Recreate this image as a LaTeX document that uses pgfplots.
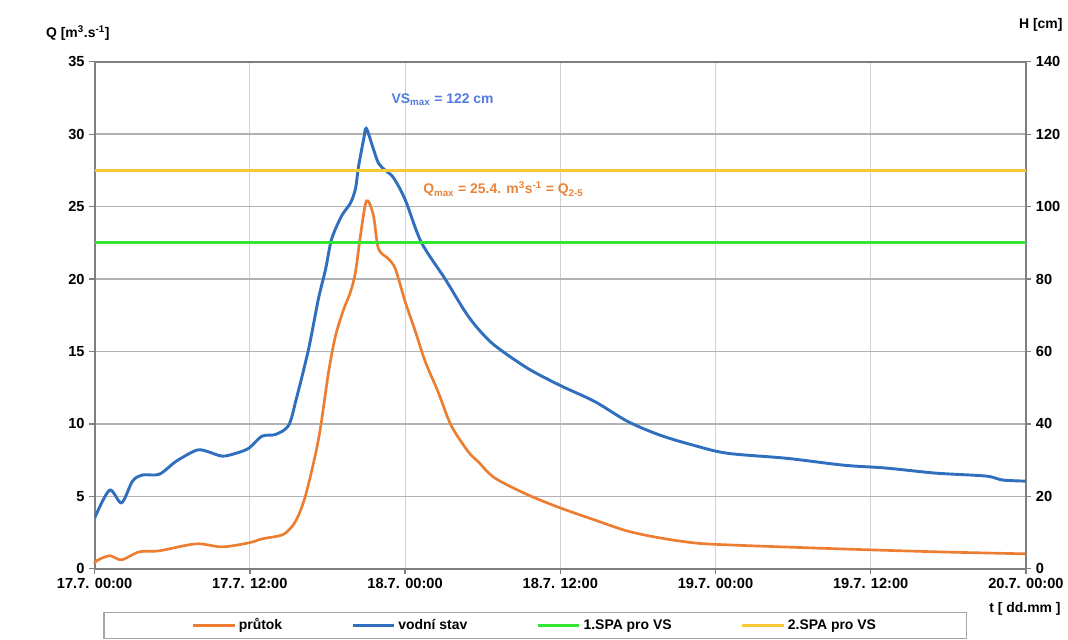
\documentclass[border=0pt]{standalone}
\usepackage{pgfplots}
\pgfplotsset{compat=1.18}
\usepackage{fontspec}
\setmainfont{Liberation Sans}

\definecolor{qorange}{HTML}{ED7D31}
\definecolor{hblue}{HTML}{2F6FBE}
\definecolor{spagreen}{HTML}{33E633}
\definecolor{spayellow}{HTML}{F7C934}
\definecolor{txtblue}{HTML}{4F7BE0}
\definecolor{txtorange}{HTML}{E8833A}
\definecolor{axgray}{HTML}{7F7F7F}

% prutok Q [m3/s], t in hours from 17.7. 00:00
\pgfplotstableread{
t Q
0.00 0.35
0.15 0.55
1.15 0.90
2.08 0.62
3.46 1.17
5.00 1.24
7.85 1.72
9.85 1.51
11.93 1.79
12.93 2.06
14.24 2.27
14.78 2.48
15.55 3.30
16.32 5.10
17.32 9.00
18.09 13.6
18.63 16.1
19.25 17.9
19.78 19.1
20.17 20.5
20.55 23.0
21.02 25.4
21.55 24.4
21.94 22.1
22.71 21.4
23.25 20.7
24.02 18.4
24.79 16.4
25.56 14.3
26.56 12.2
27.56 9.9
28.87 8.1
29.64 7.4
30.95 6.26
33.50 5.10
36.00 4.20
38.65 3.37
41.20 2.60
43.70 2.13
46.30 1.79
48.90 1.65
57.35 1.38
65.05 1.17
72.00 1.03
}\prutok

% vodni stav H [cm]
\pgfplotstableread{
t H
0.00 14.0
1.15 21.7
2.08 18.2
2.93 24.2
3.70 25.9
5.00 26.1
6.31 29.7
7.85 32.7
8.62 32.5
9.85 31.1
10.93 31.9
11.93 33.3
12.93 36.6
14.00 37.1
15.00 39.6
15.60 47.0
16.55 60.8
17.30 74.5
17.86 82.8
18.32 91.0
19.09 97.4
19.78 101.0
20.17 105.0
20.40 111.0
20.80 118.6
21.00 121.6
21.50 116.5
21.94 112.0
22.48 110.0
23.10 108.0
24.00 102.0
25.25 90.2
27.10 80.0
28.64 71.0
29.64 66.3
30.95 61.6
33.50 55.3
36.00 50.6
38.65 46.2
41.20 40.7
43.70 36.9
46.30 34.1
48.90 31.9
53.50 30.5
57.90 28.6
61.20 27.8
65.05 26.4
68.90 25.6
70.20 24.5
72.00 24.2
}\stav

\begin{document}
\begin{tikzpicture}
\pgfplotsset{
  every axis/.append style={
    scale only axis, width=701.25pt, height=381.75pt,
    xmin=0, xmax=72,
    tick align=outside, major tick length=4pt,
    tick style={axgray, line width=1pt},
    axis line style={axgray, line width=1.5pt},
    /pgf/number format/assume math mode=true,
    tick label style={font=\bfseries\fontsize{11}{13}\selectfont},
  },
}
\begin{axis}[
  ymin=0, ymax=35, ytick={0,5,...,35},
  xtick={0,12,...,72},
  xticklabels={17.7. 00:00,17.7. 12:00,18.7. 00:00,18.7. 12:00,19.7. 00:00,19.7. 12:00,20.7. 00:00},
  xtick pos=bottom, ytick pos=left,
  grid=major,
  x grid style={gray!35, line width=0.8pt},
  y grid style={gray!60, line width=1.1pt},
  clip=false,
]
\coordinate (sw) at (rel axis cs:0,0);
\addplot[qorange, line width=2pt, smooth] table[x=t, y=Q] {\prutok};
\node[font=\bfseries\fontsize{10.5}{12}\selectfont] at (axis description cs:-0.018,1.057) {Q [m\textsuperscript{3}.s\textsuperscript{-1}]};
\node[font=\bfseries\fontsize{10.5}{12}\selectfont] at (axis description cs:1.016,1.073) {H [cm]};
\node[font=\bfseries\fontsize{10.5}{12}\selectfont] at (axis description cs:0.999,-0.08) {t [ dd.mm ]};
\node[font=\bfseries\fontsize{10.5}{12}\selectfont, text=txtblue] at (axis cs:26.9,32.4) {VS\textsubscript{max} = 122 cm};
\node[font=\bfseries\fontsize{10.5}{12}\selectfont, text=txtorange] at (axis cs:31.6,26.2) {Q\textsubscript{max} = 25.4. m\textsuperscript{3}s\textsuperscript{-1} = Q\textsubscript{2-5}};
\end{axis}
\begin{axis}[
  ymin=0, ymax=140, ytick={0,20,...,140},
  axis x line=none, axis y line*=right,
  legend columns=4,
  legend style={at={(0.473,-0.0845)}, anchor=north, draw=gray!70, line width=0.8pt,
    font=\bfseries\fontsize{10.5}{12}\selectfont, inner xsep=66pt, inner ysep=3pt,
    /tikz/every even column/.append style={column sep=50pt}},
  legend image code/.code={\draw[#1, line width=2.2pt] (0cm,0cm) -- (1.1cm,0cm);},
]
\addlegendimage{qorange}
\addlegendentry{průtok}
\addplot[hblue, line width=2.2pt, smooth] table[x=t, y=H] {\stav};
\addlegendentry{vodní stav}
\addplot[spagreen, line width=2.2pt] coordinates {(0,90) (72,90)};
\addlegendentry{1.SPA pro VS}
\addplot[spayellow, line width=2.2pt] coordinates {(0,110) (72,110)};
\addlegendentry{2.SPA pro VS}
\end{axis}
\path[use as bounding box] ([shift={(-71.25pt,-50.25pt)}]sw) rectangle ([shift={(729.75pt,428.25pt)}]sw);
\end{tikzpicture}
\end{document}
